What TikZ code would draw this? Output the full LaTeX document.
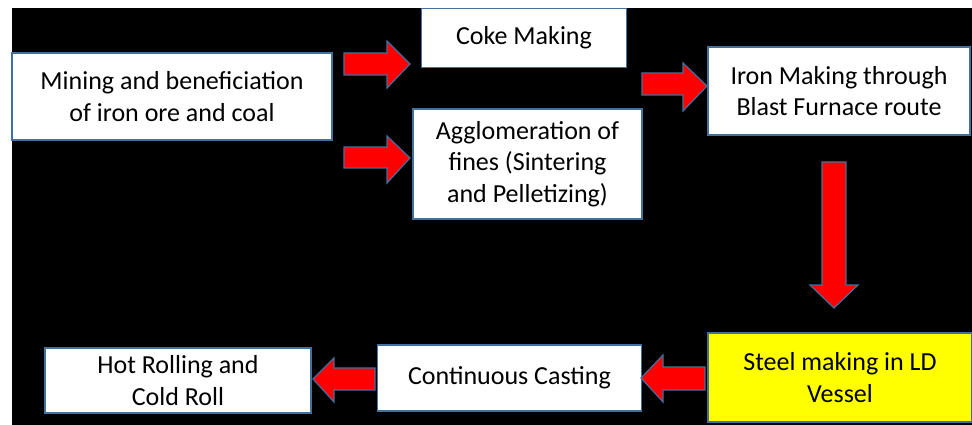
\documentclass[tikz,border=0pt]{standalone}
\usepackage{fontspec}
\setmainfont{Carlito}
\definecolor{bordblue}{HTML}{41719C}
\definecolor{arrred}{HTML}{FF0000}
\definecolor{stepyellow}{HTML}{FFFF00}
\begin{document}
\begin{tikzpicture}[x=1pt,y=-1pt,
  procbox/.style={draw=bordblue,line width=1.3pt,fill=white,align=center,font=\fontsize{26}{31.5}\selectfont,inner sep=0pt},
  blockarrow/.style={draw=bordblue,line width=1.2pt,fill=arrred,line join=miter}]
\useasboundingbox (0,0) rectangle (972,425);
\fill[white] (0,0) rectangle (972,425);
\fill[black] (12,8) rectangle (972,425);
% boxes
\node[procbox,minimum width=320pt,minimum height=87pt] (mine) at (172,96.5) {Mining and beneficiation\\of iron ore and coal};
\node[procbox,minimum width=205pt,minimum height=59pt] (coke) at (524,38) {Coke Making};
\node[procbox,minimum width=229pt,minimum height=110pt] (aggl) at (527.5,164) {Agglomeration of\\fines (Sintering\\and Pelletizing)};
\node[procbox,minimum width=262pt,minimum height=88pt] (iron) at (839,91) {Iron Making through\\Blast Furnace route};
\node[procbox,fill=stepyellow,minimum width=264pt,minimum height=89pt] (steel) at (840,377.5) {Steel making in LD\\Vessel};
\node[procbox,minimum width=264pt,minimum height=66pt] (cast) at (509.5,378) {Continuous Casting};
\node[procbox,minimum width=266pt,minimum height=65pt] (roll) at (178,380.5) {Hot Rolling and\\Cold Roll};
% block arrows
\draw[blockarrow] (344,53) -- (387,53) -- (387,41) -- (410,64) -- (387,88) -- (387,75) -- (344,75) -- cycle;
\draw[blockarrow] (344,147) -- (387,147) -- (387,136) -- (410,158) -- (387,183) -- (387,168) -- (344,168) -- cycle;
\draw[blockarrow] (642,73) -- (683,73) -- (683,63) -- (707,86) -- (683,111) -- (683,95) -- (642,95) -- cycle;
\draw[blockarrow] (822,162) -- (846,162) -- (846,285) -- (858,285) -- (834,308) -- (810,285) -- (822,285) -- cycle;
\draw[blockarrow] (375,368) -- (334,368) -- (334,358) -- (313,379) -- (334,402) -- (334,390) -- (375,390) -- cycle;
\draw[blockarrow] (705,367) -- (663,367) -- (663,355) -- (641,378) -- (663,402) -- (663,390) -- (705,390) -- cycle;
\end{tikzpicture}
\end{document}
